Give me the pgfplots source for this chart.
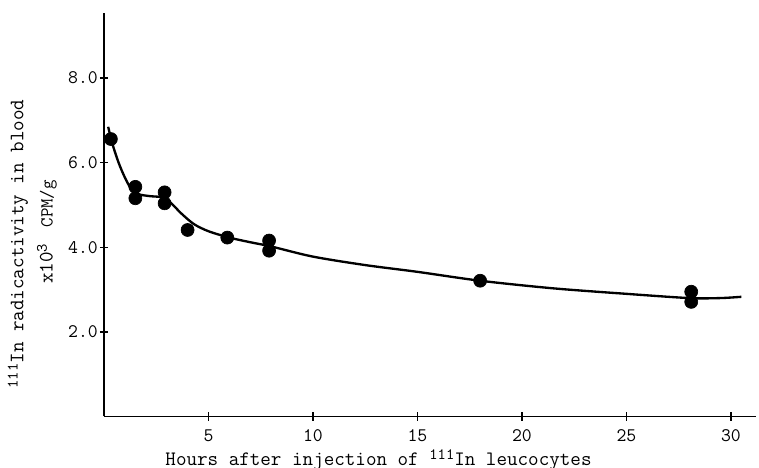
\documentclass[border=0pt]{standalone}
\usepackage{fontspec}
\usepackage{pgfplots}
\pgfplotsset{compat=1.18}
\newcommand{\isot}[1]{\raisebox{0.65ex}{\fontsize{9.5}{10}\selectfont #1}}

\begin{document}
\begin{tikzpicture}[x=0.6pt,y=0.6pt]
\path[use as bounding box] (-104,-51.5) rectangle (655,416.5);
\begin{axis}[
  at={(0,0)}, anchor=origin,
  scale only axis,
  width=391.2pt, height=242.1pt,
  xmin=0, xmax=31.2, ymin=0, ymax=9.54,
  axis x line=bottom, axis y line=left,
  axis line style={-, line width=1.1pt},
  xtick={5,10,15,20,25,30},
  ytick={2,4,6,8},
  tick align=center,
  major tick length=5pt,
  tick style={line width=0.8pt, black},
  /pgf/number format/assume math mode=true,
  ticklabel style={font=\ttfamily\fontsize{11.5}{13}\selectfont, inner sep=1pt},
  yticklabel style={/pgf/number format/.cd, fixed, fixed zerofill, precision=1},
  xticklabel style={yshift=-4pt},
  clip=false,
]
% fitted decay curve
\addplot[black, line width=1.4pt, smooth, tension=0.5] coordinates {
  (0.2,6.85) (0.4,6.45) (0.7,6.0) (1.0,5.65) (1.3,5.38) (1.6,5.26)
  (2.2,5.21) (2.8,5.18) (3.2,5.05) (3.7,4.80) (4.3,4.55) (5,4.38)
  (6,4.23) (7,4.12) (8,4.02) (10,3.78) (12.5,3.58) (15,3.42)
  (18,3.21) (21.5,3.03) (25,2.90) (28,2.80) (29.5,2.80) (30.5,2.83)
};
% measured activity
\addplot[only marks, mark=*, mark size=3.9pt, black] coordinates {
  (0.33,6.56)
  (1.5,5.43) (1.5,5.16)
  (2.9,5.30) (2.9,5.04)
  (4.0,4.41)
  (5.9,4.23)
  (7.9,4.16) (7.9,3.92)
  (18,3.21)
  (28.1,2.95) (28.1,2.71)
};
\end{axis}
\node[rotate=90, inner sep=1pt, font=\ttfamily\fontsize{12.3}{13}\selectfont] at (-86,172.5)
  {\isot{111}In radicactivity in blood};
\node[rotate=90, inner sep=1pt, font=\ttfamily\fontsize{12.3}{13}\selectfont] at (-57,184.5)
  {x10\isot{3}\hspace{0.8em}{\fontsize{11}{12}\selectfont CPM/g}};
\node[inner sep=1pt, font=\ttfamily\fontsize{12.3}{13}\selectfont] at (274.5,-43.5)
  {Hours after injection of \isot{111}In leucocytes};
\end{tikzpicture}
\end{document}
